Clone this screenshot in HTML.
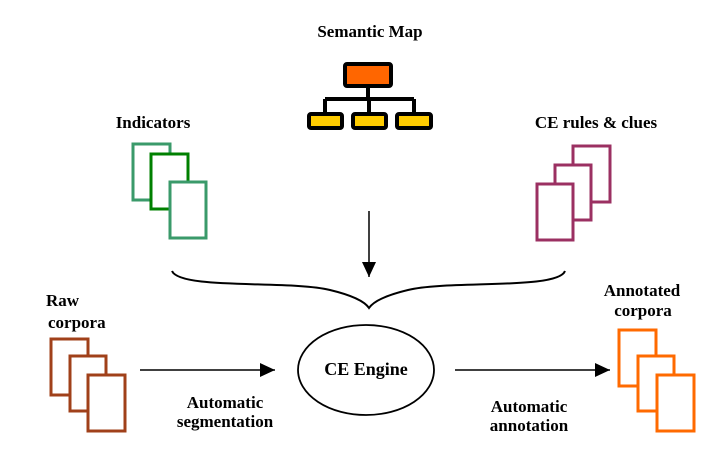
<!DOCTYPE html>
<html><head><style>
html,body{margin:0;padding:0;background:#fff;}
svg{display:block;}
</style></head><body>
<svg width="722" height="473" viewBox="0 0 722 473" xmlns="http://www.w3.org/2000/svg" font-family="'Liberation Serif','Times New Roman',Times,serif" font-weight="bold" font-size="17">
<defs><marker id="ah" markerWidth="16" markerHeight="16" refX="15" refY="7" orient="auto" markerUnits="userSpaceOnUse"><path d="M0,0 L15,7 L0,14 z" fill="#000"/></marker></defs>
<text x="370" y="37" text-anchor="middle">Semantic Map</text>
<g stroke="#000" stroke-width="4">
<line x1="368" y1="86" x2="368" y2="99"/>
<line x1="325" y1="99" x2="414" y2="99"/>
<line x1="325" y1="99" x2="325" y2="115"/>
<line x1="369" y1="99" x2="369" y2="115"/>
<line x1="414" y1="99" x2="414" y2="115"/>
<rect x="345" y="64" width="46" height="22" fill="#ff6600" rx="2"/>
<rect x="309" y="114" width="33" height="14" fill="#ffcc00" rx="2"/>
<rect x="353" y="114" width="33" height="14" fill="#ffcc00" rx="2"/>
<rect x="397" y="114" width="34" height="14" fill="#ffcc00" rx="2"/>
</g>
<text x="153" y="128" text-anchor="middle">Indicators</text>
<g fill="#fff" stroke-width="3">
<rect x="133" y="144" width="37" height="56" stroke="#3a9a6a"/>
<rect x="151" y="154" width="37" height="55" stroke="#008000"/>
<rect x="170" y="182" width="36" height="56" stroke="#3a9a6a"/>
</g>
<text x="596" y="128" text-anchor="middle">CE rules &amp; clues</text>
<g fill="#fff" stroke="#9b3062" stroke-width="3">
<rect x="573" y="146" width="37" height="56"/>
<rect x="555" y="165" width="36" height="55"/>
<rect x="537" y="184" width="36" height="56"/>
</g>
<line x1="369" y1="211" x2="369" y2="277" stroke="#000" stroke-width="1.5" marker-end="url(#ah)"/>
<path d="M172,271 C180,290 290,280 330,290 C355,296 365,302 369,308 C373,302 383,296 408,290 C448,280 558,290 565,271" fill="none" stroke="#000" stroke-width="2"/>
<text x="46" y="306">Raw</text>
<text x="48" y="328">corpora</text>
<g fill="#fff" stroke="#a0401a" stroke-width="3">
<rect x="51" y="339" width="37" height="56"/>
<rect x="70" y="356" width="36" height="55"/>
<rect x="88" y="375" width="37" height="56"/>
</g>
<line x1="140" y1="370" x2="275" y2="370" stroke="#000" stroke-width="1.5" marker-end="url(#ah)"/>
<text x="225" y="408" text-anchor="middle">Automatic</text>
<text x="225" y="427" text-anchor="middle">segmentation</text>
<ellipse cx="366" cy="370" rx="68" ry="45" fill="#fff" stroke="#000" stroke-width="1.8"/>
<text x="366" y="375" text-anchor="middle" font-size="18">CE Engine</text>
<line x1="455" y1="370" x2="610" y2="370" stroke="#000" stroke-width="1.5" marker-end="url(#ah)"/>
<text x="529" y="412" text-anchor="middle">Automatic</text>
<text x="529" y="431" text-anchor="middle">annotation</text>
<text x="642" y="296" text-anchor="middle">Annotated</text>
<text x="643" y="316" text-anchor="middle">corpora</text>
<g fill="#fff" stroke="#ff6a00" stroke-width="3">
<rect x="619" y="330" width="37" height="56"/>
<rect x="638" y="356" width="36" height="55"/>
<rect x="657" y="375" width="37" height="56"/>
</g>
</svg>
</body></html>
